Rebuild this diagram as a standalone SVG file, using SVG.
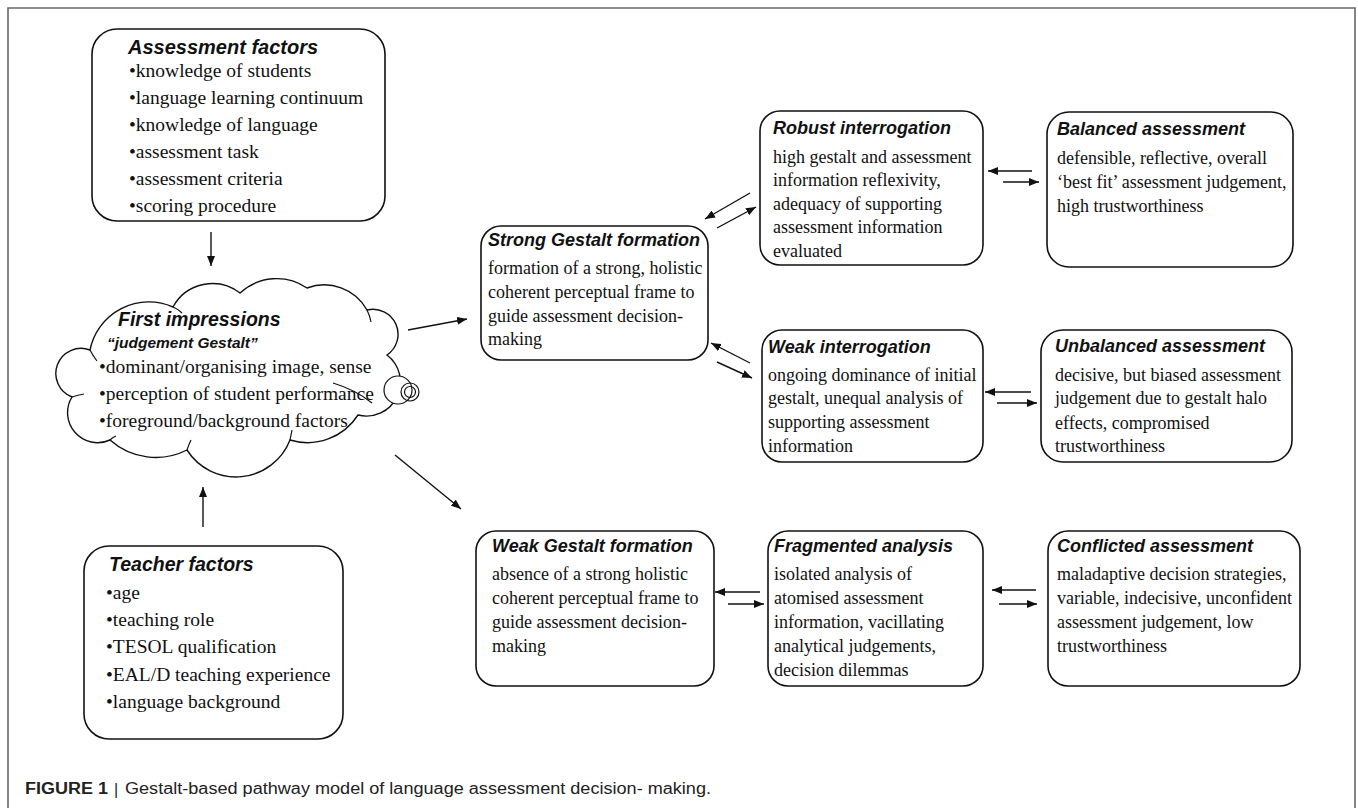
<svg xmlns="http://www.w3.org/2000/svg" width="1358" height="808" viewBox="0 0 1358 808">
<style>
.box{fill:#fff;stroke:#111;stroke-width:1.6}
.ttl{font-family:"Liberation Sans",Arial,sans-serif;font-weight:bold;font-style:italic;fill:#111}
.bd{font-family:"Liberation Serif","Times New Roman",serif;fill:#111}
.r18{font-size:18px}
.l20{font-size:19.5px}
.ln{stroke:#111;stroke-width:1.4;fill:none;marker-end:url(#ah)}
.cl{fill:#fff;stroke:#111;stroke-width:1.4}
.cap{font-family:"Liberation Sans",Arial,sans-serif;font-size:16px;fill:#222}
</style>
<defs>
<marker id="ah" markerUnits="userSpaceOnUse" markerWidth="10" markerHeight="8" refX="10" refY="4" orient="auto">
<path d="M0,0 L10,4 L0,8 z" fill="#111"/>
</marker>
</defs>
<rect width="1358" height="808" fill="#fff"/>
<path d="M8,808 V8 H1355 V808" fill="none" stroke="#666" stroke-width="1.6"/>

<g id="assessment-factors">
<rect class="box" x="92" y="29" width="293" height="192" rx="25"/>
<text class="ttl" x="128" y="54" font-size="20">Assessment factors</text>
<g class="bd l20">
<text x="129" y="77">•knowledge of students</text>
<text x="129" y="104">•language learning continuum</text>
<text x="129" y="131">•knowledge of language</text>
<text x="129" y="158">•assessment task</text>
<text x="129" y="185">•assessment criteria</text>
<text x="129" y="212">•scoring procedure</text>
</g>
</g>

<g id="first-impressions">
<path class="cl" d="M90,350 A60,60 0 0 1 173,307 A45,45 0 0 1 240,293 A54,54 0 0 1 307,288 A49,49 0 0 1 367,310 A25,25 0 0 1 387,355 A34,34 0 0 1 358,415 A60,60 0 0 1 290,440 A58,58 0 0 1 187,450 A69,69 0 0 1 110,440 A30,30 0 0 1 72,397 A25,25 0 0 1 90,350 Z"/>
<path d="M90,350 Q93,356 97,361 M173,307 Q178,309 182,313 M367,310 Q370,316 371,322 M333,383 Q356,390 372,403 M290,440 Q291,435 292,430 M187,450 Q189,444 191,440 M110,440 Q113,437 116,436 M72,397 Q78,395 84,394" fill="none" stroke="#111" stroke-width="1.2"/>
<circle cx="398" cy="390" r="14" fill="#fff" stroke="#111" stroke-width="1.2"/>
<circle cx="410" cy="392" r="9" fill="none" stroke="#111" stroke-width="1.2"/>
<circle cx="410" cy="392" r="5.5" fill="none" stroke="#111" stroke-width="1.2"/>
<text class="ttl" x="118" y="326" font-size="19.5">First impressions</text>
<text class="ttl" x="107" y="348" font-size="15.5">“judgement Gestalt”</text>
<g class="bd l20">
<text x="99" y="373">•dominant/organising image, sense</text>
<text x="99" y="400">•perception of student performance</text>
<text x="99" y="427">•foreground/background factors</text>
</g>
</g>

<g id="teacher-factors">
<rect class="box" x="84" y="546" width="259" height="193" rx="25"/>
<text class="ttl" x="109" y="571" font-size="19.5">Teacher factors</text>
<g class="bd l20">
<text x="106" y="599">•age</text>
<text x="106" y="626">•teaching role</text>
<text x="106" y="653">•TESOL qualification</text>
<text x="106" y="681">•EAL/D teaching experience</text>
<text x="106" y="708">•language background</text>
</g>
</g>

<g id="strong-gestalt">
<rect class="box" x="481" y="226" width="227" height="134" rx="20"/>
<text class="ttl r18" x="488" y="246">Strong Gestalt formation</text>
<g class="bd r18">
<text x="488" y="274">formation of a strong, holistic</text>
<text x="488" y="298">coherent perceptual frame to</text>
<text x="488" y="322">guide assessment decision-</text>
<text x="488" y="345">making</text>
</g>
</g>

<g id="robust-interrogation">
<rect class="box" x="760" y="111" width="223" height="154" rx="20"/>
<text class="ttl r18" x="773" y="134">Robust interrogation</text>
<g class="bd r18">
<text x="773" y="163">high gestalt and assessment</text>
<text x="773" y="186">information reflexivity,</text>
<text x="773" y="210">adequacy of supporting</text>
<text x="773" y="233">assessment information</text>
<text x="773" y="257">evaluated</text>
</g>
</g>

<g id="weak-interrogation">
<rect class="box" x="762" y="330" width="221" height="132" rx="20"/>
<text class="ttl r18" x="768" y="353">Weak interrogation</text>
<g class="bd r18">
<text x="768" y="381">ongoing dominance of initial</text>
<text x="768" y="404">gestalt, unequal analysis of</text>
<text x="768" y="428">supporting assessment</text>
<text x="768" y="452">information</text>
</g>
</g>

<g id="balanced-assessment">
<rect class="box" x="1047" y="112" width="246" height="155" rx="22"/>
<text class="ttl r18" x="1057" y="135">Balanced assessment</text>
<g class="bd r18">
<text x="1057" y="164">defensible, reflective, overall</text>
<text x="1057" y="188">‘best fit’ assessment judgement,</text>
<text x="1057" y="212">high trustworthiness</text>
</g>
</g>

<g id="unbalanced-assessment">
<rect class="box" x="1041" y="330" width="251" height="132" rx="22"/>
<text class="ttl r18" x="1055" y="352">Unbalanced assessment</text>
<g class="bd r18">
<text x="1055" y="381">decisive, but biased assessment</text>
<text x="1055" y="404">judgement due to gestalt halo</text>
<text x="1055" y="429">effects, compromised</text>
<text x="1055" y="452">trustworthiness</text>
</g>
</g>

<g id="weak-gestalt">
<rect class="box" x="476" y="531" width="238" height="155" rx="20"/>
<text class="ttl r18" x="492" y="552">Weak Gestalt formation</text>
<g class="bd r18">
<text x="492" y="580">absence of a strong holistic</text>
<text x="492" y="604">coherent perceptual frame to</text>
<text x="492" y="628">guide assessment decision-</text>
<text x="492" y="652">making</text>
</g>
</g>

<g id="fragmented-analysis">
<rect class="box" x="768" y="531" width="215" height="155" rx="20"/>
<text class="ttl r18" x="774" y="552">Fragmented analysis</text>
<g class="bd r18">
<text x="774" y="580">isolated analysis of</text>
<text x="774" y="604">atomised assessment</text>
<text x="774" y="628">information, vacillating</text>
<text x="774" y="652">analytical judgements,</text>
<text x="774" y="676">decision dilemmas</text>
</g>
</g>

<g id="conflicted-assessment">
<rect class="box" x="1048" y="531" width="252" height="155" rx="20"/>
<text class="ttl r18" x="1057" y="552">Conflicted assessment</text>
<g class="bd r18">
<text x="1057" y="580">maladaptive decision strategies,</text>
<text x="1057" y="604">variable, indecisive, unconfident</text>
<text x="1057" y="628">assessment judgement, low</text>
<text x="1057" y="652">trustworthiness</text>
</g>
</g>

<g id="connectors">
<line class="ln" x1="211" y1="232" x2="211" y2="266"/>
<line class="ln" x1="203" y1="527" x2="203" y2="487"/>
<line class="ln" x1="408" y1="330" x2="467" y2="319"/>
<line class="ln" x1="395" y1="455" x2="461" y2="509"/>
<line class="ln" x1="750" y1="193" x2="705" y2="219"/>
<line class="ln" x1="717" y1="228" x2="756" y2="207"/>
<line class="ln" x1="750" y1="363" x2="711" y2="343"/>
<line class="ln" x1="717" y1="362" x2="752" y2="378"/>
<line class="ln" x1="1032" y1="171" x2="988" y2="171"/>
<line class="ln" x1="1003" y1="182" x2="1039" y2="182"/>
<line class="ln" x1="1031" y1="392" x2="985" y2="392"/>
<line class="ln" x1="997" y1="403" x2="1037" y2="403"/>
<line class="ln" x1="760" y1="592" x2="715" y2="592"/>
<line class="ln" x1="728" y1="604" x2="764" y2="604"/>
<line class="ln" x1="1036" y1="590" x2="992" y2="590"/>
<line class="ln" x1="999" y1="604" x2="1037" y2="604"/>
</g>

<g id="caption">
<text class="cap" x="25" y="794" font-weight="bold" fill="#111" textLength="83" lengthAdjust="spacingAndGlyphs">FIGURE 1</text>
<text class="cap" x="114" y="795" font-size="18" fill="#444">|</text>
<text class="cap" x="125" y="794" textLength="586" lengthAdjust="spacingAndGlyphs">Gestalt-based pathway model of language assessment decision- making.</text>
</g>
</svg>
